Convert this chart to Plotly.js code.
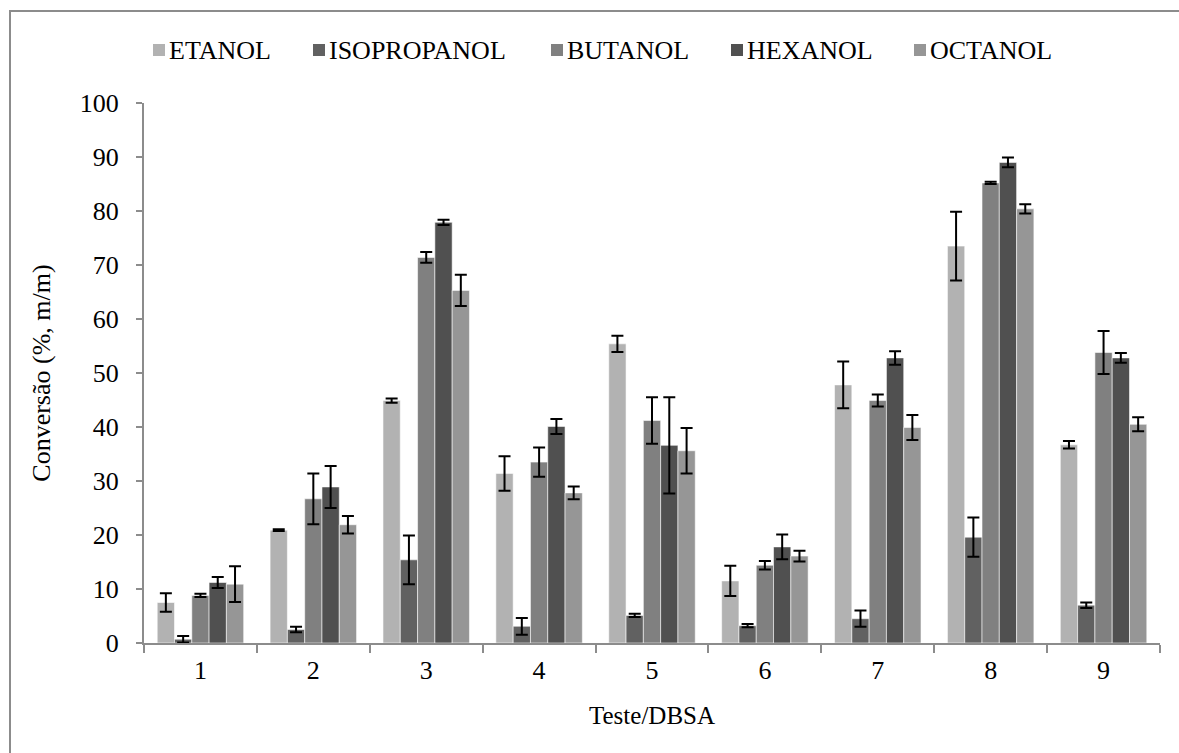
<!DOCTYPE html>
<html>
<head>
<meta charset="utf-8">
<script src="https://cdn.plot.ly/plotly-3.0.1.min.js"></script>
<style>
  html, body { margin: 0; padding: 0; background: #fff; overflow: hidden; }
  #wrap { position: relative; width: 1179px; height: 753px; }
  #chart { position: absolute; left: 0; top: 0; width: 1179px; height: 753px; }
  #frame { position: absolute; left: 9px; top: 10px; width: 1200px; height: 800px;
           border: 2px solid #8c8c8c; pointer-events: none; }
</style>
</head>
<body>
<div id="wrap">
  <div id="chart"></div>
  <div id="frame"></div>
</div>
<script>
// Conversion (% m/m) per test with DBSA, for each alcohol, with standard deviations
const tests = ['1', '2', '3', '4', '5', '6', '7', '8', '9'];

const etanol    = [7.5, 20.9, 44.9, 31.4, 55.4, 11.5, 47.8, 73.5, 36.7];
const etanolSd  = [1.7, 0.15, 0.4, 3.2, 1.5, 2.8, 4.35, 6.35, 0.7];
const isopropanol   = [0.7, 2.5, 15.4, 3.1, 5.1, 3.2, 4.5, 19.6, 7.0];
const isopropanolSd = [0.6, 0.5, 4.5, 1.55, 0.3, 0.3, 1.5, 3.65, 0.5];
const butanol   = [8.8, 26.7, 71.4, 33.5, 41.2, 14.4, 44.9, 85.2, 53.8];
const butanolSd = [0.3, 4.7, 1.0, 2.7, 4.3, 0.8, 1.1, 0.2, 4.0];
const hexanol   = [11.2, 28.9, 77.9, 40.1, 36.6, 17.8, 52.8, 89.0, 52.8];
const hexanolSd = [1.0, 3.9, 0.5, 1.4, 8.9, 2.3, 1.25, 0.9, 0.9];
const octanol   = [10.9, 21.9, 65.3, 27.8, 35.6, 16.1, 39.9, 80.4, 40.5];
const octanolSd = [3.3, 1.6, 2.9, 1.2, 4.2, 1.0, 2.3, 0.85, 1.3];

const seriesNames = ['ETANOL', 'ISOPROPANOL', 'BUTANOL', 'HEXANOL', 'OCTANOL'];
const seriesValues = [etanol, isopropanol, butanol, hexanol, octanol];
const seriesErrors = [etanolSd, isopropanolSd, butanolSd, hexanolSd, octanolSd];
const seriesColors = ['#b2b2b2', '#616161', '#808080', '#505050', '#969696'];

const FONT = 'Liberation Serif, Times New Roman, serif';

// plot area in pixels (used to place the key above the plot)
const W = 1179, H = 753;
const M = { l: 144, r: 19, t: 103, b: 110 };
const plotW = W - M.l - M.r, plotH = H - M.t - M.b;
const px2x = px => (px - M.l) / plotW;
const px2y = py => (H - M.b - py) / plotH;

// key: swatch left edge for each entry, row centre
const keyLeft = [153, 313, 551, 731, 914];
const keyRowY = 50;
const swatch = 12;

const traces = seriesNames.map((name, i) => ({
  type: 'bar',
  name: name,
  x: tests,
  y: seriesValues[i],
  marker: { color: seriesColors[i], line: { color: 'rgba(255,255,255,0.7)', width: 0.8 } },
  error_y: { type: 'data', array: seriesErrors[i], visible: true,
             color: '#000', thickness: 2, width: 6 },
  hoverinfo: 'x+y+name'
}));

const keyShapes = seriesNames.map((name, i) => ({
  type: 'rect', xref: 'paper', yref: 'paper',
  x0: px2x(keyLeft[i]), x1: px2x(keyLeft[i] + swatch),
  y0: px2y(keyRowY + swatch / 2), y1: px2y(keyRowY - swatch / 2),
  fillcolor: seriesColors[i], line: { width: 0 }
}));

const keyLabels = seriesNames.map((name, i) => ({
  xref: 'paper', yref: 'paper',
  x: px2x(keyLeft[i] + swatch + 2), y: px2y(keyRowY),
  xanchor: 'left', yanchor: 'middle',
  text: name, showarrow: false,
  font: { family: FONT, size: 26, color: '#000' }
}));

const layout = {
  width: W,
  height: H,
  margin: M,
  paper_bgcolor: '#fff',
  plot_bgcolor: '#fff',
  font: { family: FONT, size: 26, color: '#000' },
  barmode: 'group',
  bargap: 0.234,
  bargroupgap: 0,
  showlegend: false,
  shapes: keyShapes,
  annotations: keyLabels,
  xaxis: {
    type: 'category',
    showline: true, linecolor: '#8c8c8c', linewidth: 2,
    ticks: 'outside', tickson: 'boundaries', ticklen: 8, tickcolor: '#8c8c8c', tickwidth: 2,
    showgrid: false, zeroline: false,
    tickfont: { family: FONT, size: 26, color: '#000' },
    ticklabelstandoff: 3,
    title: { text: 'Teste/DBSA', font: { family: FONT, size: 25, color: '#000' }, standoff: 22 }
  },
  yaxis: {
    range: [0, 100],
    dtick: 10,
    showline: true, linecolor: '#8c8c8c', linewidth: 2,
    ticks: 'outside', ticklen: 6, tickcolor: '#8c8c8c', tickwidth: 2,
    showgrid: false, zeroline: false,
    tickfont: { family: FONT, size: 26, color: '#000' },
    ticklabelstandoff: 12,
    title: { text: 'Conversão (%, m/m)', font: { family: FONT, size: 26, color: '#000' }, standoff: 22 }
  }
};

Plotly.newPlot('chart', traces, layout, { displayModeBar: false, staticPlot: true });
</script>
</body>
</html>
